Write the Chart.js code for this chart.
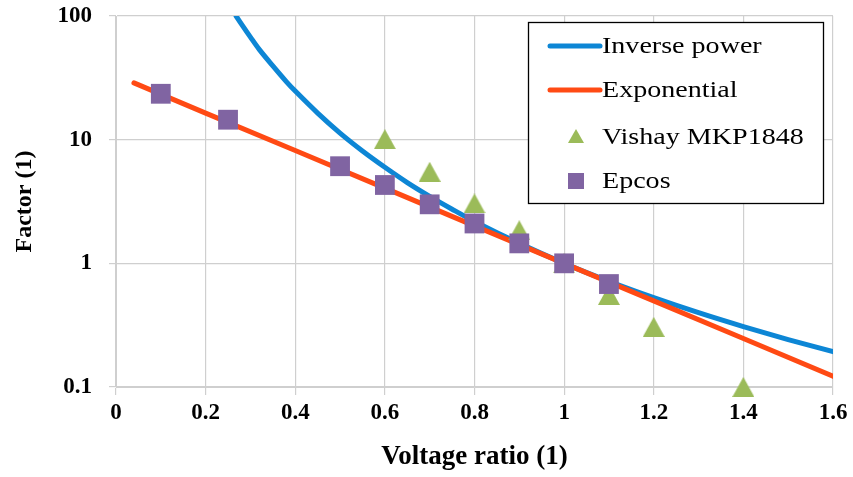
<!DOCTYPE html>
<html><head><meta charset="utf-8">
<script src="https://cdn.jsdelivr.net/npm/chart.js@4/dist/chart.umd.min.js"></script>
<style>html,body{margin:0;padding:0;background:#fff}#wrap{width:853px;height:477px}</style>
</head><body><div id="wrap"><canvas id="c" width="853" height="477"></canvas></div>
<script>
const seriesNames = ["Inverse power", "Exponential", "Vishay MKP1848", "Epcos"];
const xTicks = [0, 0.2, 0.4, 0.6, 0.8, 1, 1.2, 1.4, 1.6];
const yTicks = [0.1, 1, 10, 100];

const invX = [0.268, 0.28, 0.30, 0.32, 0.35, 0.38, 0.40, 0.45, 0.50, 0.55, 0.60, 0.65, 0.70, 0.75, 0.80, 0.90, 1.00, 1.10, 1.20, 1.30, 1.40, 1.50, 1.60];
const invY = [100, 86, 67.5, 53.5, 39.5, 29.5, 24.7, 16.4, 11.3, 8.1, 5.98, 4.5, 3.48, 2.74, 2.18, 1.45, 1.0, 0.716, 0.528, 0.399, 0.308, 0.242, 0.193];

const expX = [0.04, 0.2, 0.4, 0.6, 0.8, 1.0, 1.2, 1.4, 1.6];
const expY = [28.8, 16.4, 8.17, 4.06, 2.01, 1.0, 0.497, 0.247, 0.122];

const vishayX = [0.6, 0.7, 0.8, 0.9, 1.0, 1.1, 1.2, 1.4];
const vishayY = [10.1, 5.5, 3.05, 1.85, 1.0, 0.555, 0.306, 0.1];

const epcosX = [0.1, 0.25, 0.5, 0.6, 0.7, 0.8, 0.9, 1.0, 1.1];
const epcosY = [23.5, 14.5, 6.1, 4.3, 3.0, 2.1, 1.45, 1.0, 0.68];

const colors = ["#0D86D5", "#FF4A14", "#9BBB59", "#8064A2"];
const pts = (xs, ys) => xs.map((x, i) => ({x: x, y: ys[i]}));
const FONT = "'Liberation Serif', 'Times New Roman', serif";

// triangle marker centred on its bounding box (as in the original)
const triMarker = document.createElement('canvas');
triMarker.width = 22; triMarker.height = 20;
(function () {
  const c = triMarker.getContext('2d');
  c.fillStyle = colors[2];
  c.beginPath(); c.moveTo(11, 0); c.lineTo(22, 20); c.lineTo(0, 20); c.closePath(); c.fill();
})();

const legendPlugin = {
  id: 'boxLegend',
  afterDraw(chart) {
    const ctx = chart.ctx;
    const x0 = 528, y0 = 22, w = 295, h = 181;
    ctx.save();
    ctx.fillStyle = '#fff';
    ctx.fillRect(x0, y0, w, h);
    ctx.strokeStyle = '#000';
    ctx.lineWidth = 1.3;
    ctx.strokeRect(x0 + 0.5, y0 + 0.5, w, h);
    ctx.font = "23px " + FONT;
    ctx.textBaseline = 'middle';
    const rows = [46, 90, 137, 181];
    rows.forEach((ry, i) => {
      if (i < 2) {
        ctx.strokeStyle = colors[i];
        ctx.lineWidth = 5;
        ctx.lineCap = 'round';
        ctx.beginPath(); ctx.moveTo(550, ry); ctx.lineTo(600, ry); ctx.stroke();
      } else if (i === 2) {
        ctx.fillStyle = colors[2];
        ctx.beginPath(); ctx.moveTo(576, ry - 8); ctx.lineTo(584, ry + 6); ctx.lineTo(568, ry + 6); ctx.closePath(); ctx.fill();
      } else {
        ctx.fillStyle = colors[3];
        ctx.fillRect(568, ry - 8, 16, 16);
      }
      ctx.save();
      ctx.translate(602, ry + 1);
      ctx.scale(1.22, 1);
      ctx.fillStyle = '#000';
      ctx.fillText(seriesNames[i], 0, 0);
      ctx.restore();
    });
    ctx.restore();
  }
};

new Chart(document.getElementById('c'), {
  type: 'scatter',
  data: {
    datasets: [
      {label: seriesNames[0], data: pts(invX, invY), showLine: true, borderColor: colors[0], borderWidth: 5, pointRadius: 0, tension: 0.3, fill: false, order: 3, borderCapStyle: 'round'},
      {label: seriesNames[1], data: pts(expX, expY), showLine: true, borderColor: colors[1], borderWidth: 5, pointRadius: 0, tension: 0, fill: false, order: 2, borderCapStyle: 'round'},
      {label: seriesNames[2], data: pts(vishayX, vishayY), showLine: false, pointStyle: triMarker, pointRadius: 11, backgroundColor: colors[2], borderColor: colors[2], borderWidth: 0, order: 1, clip: false},
      {label: seriesNames[3], data: pts(epcosX, epcosY), showLine: false, pointStyle: 'rect', pointRadius: 14, backgroundColor: colors[3], borderColor: colors[3], borderWidth: 0, order: 0, clip: false}
    ]
  },
  options: {
    responsive: false,
    animation: false,
    layout: {padding: {left: 4, right: 20, top: 16, bottom: 0}},
    plugins: {legend: {display: false}, tooltip: {enabled: false}},
    scales: {
      x: {
        type: 'linear', min: 0, max: 1.6,
        afterBuildTicks(s) { s.ticks = xTicks.map(v => ({value: v})); },
        afterFit(s) { s.height = 90; },
        ticks: {color: '#000', font: {family: FONT, size: 23, weight: 'bold'}, padding: 4, maxRotation: 0, callback: v => String(v)},
        grid: {color: '#CFCFCF', lineWidth: 1.2, tickLength: 8},
        border: {color: '#CFCFCF'},
        title: {display: true, text: 'Voltage ratio (1)', color: '#000', font: {family: FONT, size: 27, weight: 'bold'}, padding: {top: 4, bottom: 4}}
      },
      y: {
        type: 'logarithmic', min: 0.1, max: 100,
        afterBuildTicks(s) { s.ticks = yTicks.map(v => ({value: v})); },
        afterFit(s) { s.width = 112; s.paddingTop = 0; s.paddingBottom = 0; },
        ticks: {color: '#000', font: {family: FONT, size: 23, weight: 'bold'}, padding: 17, callback: v => String(v)},
        grid: {color: '#CFCFCF', lineWidth: 1.2, tickLength: 7},
        border: {color: '#CFCFCF'},
        title: {display: true, text: 'Factor (1)', color: '#000', font: {family: FONT, size: 24, weight: 'bold'}, padding: {top: 6, bottom: 0}}
      }
    }
  },
  plugins: [legendPlugin]
});
</script>
</body></html>
